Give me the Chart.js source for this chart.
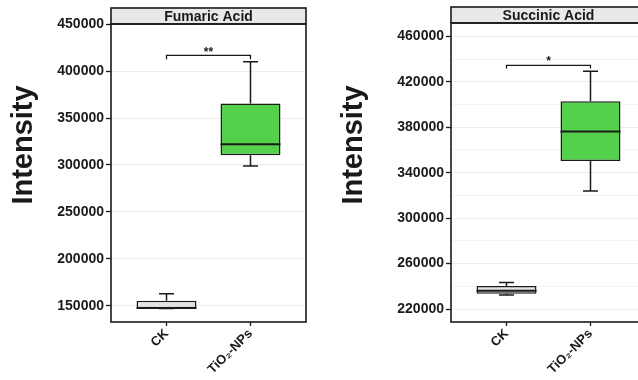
<!DOCTYPE html>
<html lang="en">
<head>
<meta charset="UTF-8">
<title>Fumaric and Succinic Acid</title>
<script src="https://cdn.jsdelivr.net/npm/chart.js"></script>
<style>
    body { margin: 0; background: #fff; }
    .wrap { position: relative; width: 638px; height: 380px; overflow: hidden; }
    .panel { position: absolute; top: 0; height: 380px; }
    #left-panel { left: 0; width: 319px; }
    #right-panel { left: 319px; width: 340px; }
</style>
</head>
<body>
<div class="wrap">
    <div class="panel" id="left-panel"><canvas id="fumaric-chart" width="319" height="380"></canvas></div>
    <div class="panel" id="right-panel"><canvas id="succinic-chart" width="340" height="380"></canvas></div>
</div>

<script>
    const categories = ['CK', 'TiO\u2082-NPs'];

    // Fumaric Acid box stats
    const fumaricMin = [147000, 299000];
    const fumaricQ1 = [147200, 310300];
    const fumaricMedian = [147500, 322000];
    const fumaricQ3 = [155300, 365500];
    const fumaricMax = [162800, 410000];
    const fumaricTicks = [150000, 200000, 250000, 300000, 350000, 400000, 450000];
    const fumaricBracket = [416800, 412700];
    const fumaricStarY = 422600;

    // Succinic Acid box stats
    const succinicMin = [232300, 323900];
    const succinicQ1 = [233400, 350200];
    const succinicMedian = [236100, 376300];
    const succinicQ3 = [240200, 402900];
    const succinicMax = [243300, 429300];
    const succinicTicks = [220000, 240000, 260000, 280000, 300000, 320000, 340000, 360000, 380000, 400000, 420000, 440000, 460000];
    const succinicMajor = [220000, 260000, 300000, 340000, 380000, 420000, 460000];
    const succinicBracket = [434500, 431600];
    const succinicStarY = 440700;

    const boxColors = ['#e2e2e2', '#54d14b'];
    const ink = '#1a1a1a';

    Chart.defaults.font.family = "'Liberation Sans', Arial, sans-serif";

    function panelPlugin(p) {
        return {
            id: 'panel',
            afterDatasetsDraw(chart) {
                const ctx = chart.ctx;
                const x = chart.scales.x;
                const y = chart.scales.y;
                const bars = chart.getDatasetMeta(0).data;
                ctx.save();
                ctx.strokeStyle = ink;
                for (let i = 0; i < categories.length; i++) {
                    const cx = x.getPixelForValue(i);
                    const half = bars[i].width / 2;
                    const cap = half / 4;
                    const yMax = y.getPixelForValue(p.max[i]);
                    const yMin = y.getPixelForValue(p.min[i]);
                    ctx.lineWidth = 1.5;
                    ctx.beginPath();
                    ctx.moveTo(cx, y.getPixelForValue(p.q3[i]));
                    ctx.lineTo(cx, yMax);
                    ctx.moveTo(cx - cap, yMax);
                    ctx.lineTo(cx + cap, yMax);
                    ctx.moveTo(cx, y.getPixelForValue(p.q1[i]));
                    ctx.lineTo(cx, yMin);
                    ctx.moveTo(cx - cap, yMin);
                    ctx.lineTo(cx + cap, yMin);
                    ctx.stroke();
                    ctx.lineWidth = 2;
                    const yMed = y.getPixelForValue(p.median[i]);
                    ctx.beginPath();
                    ctx.moveTo(cx - half, yMed);
                    ctx.lineTo(cx + half, yMed);
                    ctx.stroke();
                }
                // significance bracket
                const x0 = x.getPixelForValue(0);
                const x1 = x.getPixelForValue(1);
                const yb = y.getPixelForValue(p.bracket[0]);
                const yd = y.getPixelForValue(p.bracket[1]);
                ctx.lineWidth = 1.3;
                ctx.beginPath();
                ctx.moveTo(x0, yd);
                ctx.lineTo(x0, yb);
                ctx.lineTo(x1, yb);
                ctx.lineTo(x1, yd);
                ctx.stroke();
                ctx.fillStyle = ink;
                ctx.font = "bold 12px 'Liberation Sans', Arial, sans-serif";
                ctx.textAlign = 'center';
                ctx.textBaseline = 'middle';
                ctx.fillText(p.stars, (x0 + x1) / 2, y.getPixelForValue(p.starY) + 3);
                ctx.restore();
            },
            afterDraw(chart) {
                const ctx = chart.ctx;
                const a = chart.chartArea;
                ctx.save();
                // strip
                ctx.fillStyle = '#e8e8e8';
                ctx.fillRect(a.left, p.stripTop, a.right - a.left, a.top - p.stripTop);
                ctx.strokeStyle = ink;
                ctx.lineWidth = 1.6;
                ctx.strokeRect(a.left, p.stripTop, a.right - a.left, a.top - p.stripTop);
                ctx.strokeRect(a.left, a.top, a.right - a.left, a.bottom - a.top);
                ctx.fillStyle = ink;
                ctx.font = "bold 14px 'Liberation Sans', Arial, sans-serif";
                ctx.textAlign = 'center';
                ctx.textBaseline = 'middle';
                ctx.fillText(p.title, (a.left + a.right) / 2, (p.stripTop + a.top) / 2 + 1);
                // y axis title
                ctx.translate(p.titleX, 145);
                ctx.rotate(-Math.PI / 2);
                ctx.font = "bold 29px 'Liberation Sans', Arial, sans-serif";
                ctx.fillText('Intensity', 0, 0);
                ctx.restore();
            }
        };
    }

    function makeChart(canvasId, p) {
        return new Chart(document.getElementById(canvasId), {
            type: 'bar',
            data: {
                datasets: [{
                    data: p.q1.map((v, i) => ({ x: i, y: [v, p.q3[i]] })),
                    backgroundColor: boxColors,
                    borderColor: ink,
                    borderWidth: 1.5,
                    borderSkipped: false,
                    barPercentage: 0.714,
                    categoryPercentage: 1
                }]
            },
            options: {
                responsive: false,
                animation: false,
                layout: { padding: { top: p.top, right: 13, left: 0, bottom: 0 } },
                plugins: { legend: { display: false }, tooltip: { enabled: false } },
                scales: {
                    x: {
                        type: 'linear',
                        min: -0.661,
                        max: 1.661,
                        offset: false,
                        afterBuildTicks: scale => { scale.ticks = categories.map((c, i) => ({ value: i })); },
                        grid: { offset: false, drawOnChartArea: false, color: 'transparent', tickColor: ink, tickLength: 4, tickWidth: 1.3 },
                        border: { display: false },
                        ticks: {
                            color: ink,
                            font: { size: 13, weight: 'bold' },
                            maxRotation: 45,
                            minRotation: 45,
                            padding: 0,
                            autoSkip: false,
                            callback: v => categories[v]
                        },
                        afterFit: scale => { scale.height = 58; }
                    },
                    y: {
                        min: p.yMin,
                        max: p.yMax,
                        afterBuildTicks: scale => { scale.ticks = p.ticks.map(v => ({ value: v })); },
                        afterFit: scale => { scale.width = p.yWidth; },
                        border: { display: false },
                        grid: {
                            color: ctx => p.major.includes(ctx.tick.value) ? '#ececec' : '#f4f4f4',
                            tickColor: ctx => p.major.includes(ctx.tick.value) ? ink : 'transparent',
                            tickLength: 5,
                            tickWidth: 1.3
                        },
                        ticks: {
                            color: ink,
                            autoSkip: false,
                            padding: 2,
                            font: { size: 14, weight: 'bold' },
                            callback: v => p.major.includes(v) ? String(v) : ''
                        }
                    }
                }
            },
            plugins: [panelPlugin(p)]
        });
    }

    makeChart('fumaric-chart', {
        title: 'Fumaric Acid',
        min: fumaricMin, q1: fumaricQ1, median: fumaricMedian, q3: fumaricQ3, max: fumaricMax,
        ticks: fumaricTicks, major: fumaricTicks,
        yMin: 132600, yMax: 450300,
        bracket: fumaricBracket, starY: fumaricStarY, stars: '**',
        yWidth: 111, top: 24, stripTop: 8, titleX: 24
    });

    makeChart('succinic-chart', {
        title: 'Succinic Acid',
        min: succinicMin, q1: succinicQ1, median: succinicMedian, q3: succinicQ3, max: succinicMax,
        ticks: succinicTicks, major: succinicMajor,
        yMin: 208600, yMax: 471700,
        bracket: succinicBracket, starY: succinicStarY, stars: '*',
        yWidth: 132, top: 23, stripTop: 7, titleX: 35
    });
</script>
</body>
</html>
